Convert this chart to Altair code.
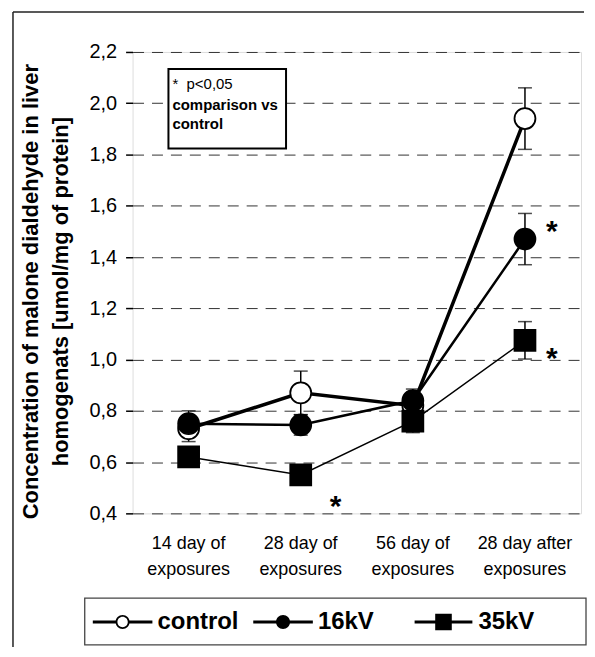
import altair as alt
import pandas as pd

# ---------------- data ----------------
categories = ["14 day of exposures", "28 day of exposures",
              "56 day of exposures", "28 day after exposures"]
series_names = ["control", "16kV", "35kV"]

control = [0.73, 0.87, 0.82, 1.94]
control_err = [0.05, 0.085, 0.04, 0.12]
kv16 = [0.75, 0.745, 0.84, 1.47]
kv16_err = [0.05, 0.04, 0.045, 0.10]
kv35 = [0.62, 0.55, 0.76, 1.075]
kv35_err = [0.035, 0.02, 0.045, 0.073]

y_ticks = [0.4, 0.6, 0.8, 1.0, 1.2, 1.4, 1.6, 1.8, 2.0, 2.2]

# significance stars (category, value)
star_low_cats = ["28 day of exposures"]
star_low_vals = [0.455]
star_high_cats = ["28 day after exposures", "28 day after exposures"]
star_high_vals = [1.527, 1.033]

note_line1 = "*\u00a0\u00a0p<0,05"
note_lines_bold = ["comparison vs", "control"]

y_title = ["Concentration of malone dialdehyde in liver",
           "homogenats [umol/mg of protein]"]

# ---------------- table ----------------
rows = []
for name, vals, errs in [("control", control, control_err),
                         ("16kV", kv16, kv16_err),
                         ("35kV", kv35, kv35_err)]:
    for c, v, e in zip(categories, vals, errs):
        rows.append({"series": name, "day": c, "value": v,
                     "lo": v - e, "hi": v + e})
df = pd.DataFrame(rows)

stars_low = pd.DataFrame({"day": star_low_cats, "value": star_low_vals})
stars_high = pd.DataFrame({"day": star_high_cats, "value": star_high_vals})

FONT = "Liberation Sans"

x_enc = alt.X("day:N", sort=categories, title=None,
              axis=alt.Axis(labelExpr="[slice(datum.label, 0, lastindexof(datum.label, ' ')), "
                                      "slice(datum.label, lastindexof(datum.label, ' ') + 1)]",
                            labelAngle=0, labelFontSize=18, labelFont=FONT,
                            labelColor="black", labelLineHeight=26,
                            labelPadding=21, labelBaseline="top",
                            ticks=False, domain=False, grid=False))
y_scale = alt.Scale(domain=[0.4, 2.2], nice=False, zero=False)
y_enc = alt.Y("value:Q", scale=y_scale,
              axis=alt.Axis(values=y_ticks,
                            labelExpr="replace(format(datum.value, '.1f'), '.', ',')",
                            labelFontSize=20, labelFont=FONT, labelColor="black",
                            labelPadding=9, tickSize=7, tickColor="black",
                            tickWidth=1.5, domain=False,
                            grid=True, gridDash=[11, 8], gridColor="#333333",
                            gridWidth=1,
                            title=y_title, titleFontSize=22, titleFont=FONT,
                            titleFontWeight="bold", titleColor="black",
                            titleLineHeight=30, titleAngle=270,
                            titleX=-95, titleY=240, titleBaseline="alphabetic",
                            titleAlign="center"))

base = alt.Chart(df)

err_rule = base.mark_rule(color="black", strokeWidth=1.5).encode(
    x=x_enc, y=alt.Y("lo:Q", scale=y_scale), y2="hi:Q")
err_lo = base.mark_tick(color="black", thickness=1.5, size=14, orient="horizontal").encode(
    x=x_enc, y=alt.Y("lo:Q", scale=y_scale))
err_hi = base.mark_tick(color="black", thickness=1.5, size=14, orient="horizontal").encode(
    x=x_enc, y=alt.Y("hi:Q", scale=y_scale))

lines = base.mark_line(color="black").encode(
    x=x_enc, y=y_enc, detail="series:N",
    strokeWidth=alt.StrokeWidth("series:N",
                                scale=alt.Scale(domain=series_names, range=[3.5, 1.5, 1.5]),
                                legend=None))

points = base.mark_point(filled=True, stroke="black", strokeWidth=1.8, opacity=1).encode(
    x=x_enc, y=y_enc,
    shape=alt.Shape("series:N", scale=alt.Scale(domain=series_names,
                                                 range=["circle", "circle", "square"]),
                    legend=None),
    fill=alt.Fill("series:N", scale=alt.Scale(domain=series_names,
                                               range=["white", "black", "black"]),
                  legend=None),
    size=alt.Size("series:N", scale=alt.Scale(domain=series_names, range=[441, 441, 324]),
                  legend=None))

# legend-only layer: filled symbol paths = line + marker (ring for control)
bars = ("M-4.6,-0.23L-1.0,-0.23L-1.0,0.23L-4.6,0.23Z"
        "M1.0,-0.23L4.6,-0.23L4.6,0.23L1.0,0.23Z")
outer = "M1.08,0A1.08,1.08,0,1,1,-1.08,0A1.08,1.08,0,1,1,1.08,0Z"
inner = "M0.8,0A0.8,0.8,0,1,0,-0.8,0A0.8,0.8,0,1,0,0.8,0Z"
p_ring = bars + outer + inner
p_disc = bars + outer
p_square = ("M-4.46,-0.23L-1.2,-0.23L-1.2,0.23L-4.46,0.23Z"
            "M1.2,-0.23L4.46,-0.23L4.46,0.23L1.2,0.23Z"
            "M-1.28,-1.28L1.28,-1.28L1.28,1.28L-1.28,1.28Z")
leg = alt.Legend(title=None, orient="none", legendX=-50, legendY=550,
                 direction="horizontal", symbolSize=169, symbolStrokeWidth=0,
                 symbolFillColor="black", symbolOpacity=1, symbolOffset=18,
                 labelOffset=23, labelFontSize=24, labelFont=FONT,
                 labelFontWeight="bold", labelColor="black",
                 padding=10, columnPadding=14, gridAlign="all")
legend_layer = base.mark_point(filled=True, opacity=0, color="black").encode(
    x=x_enc, y=y_enc,
    shape=alt.Shape("series:N", scale=alt.Scale(domain=series_names,
                                                 range=[p_ring, p_disc, p_square]),
                    legend=leg))

star1 = alt.Chart(stars_low).mark_text(text="*", fontSize=30, fontWeight="bold",
                                        font=FONT, color="black", dx=35, dy=17,
                                        baseline="alphabetic").encode(
    x=alt.X("day:N", sort=categories), y=alt.Y("value:Q", scale=y_scale))
star2 = alt.Chart(stars_high).mark_text(text="*", fontSize=30, fontWeight="bold",
                                         font=FONT, color="black", dx=27, dy=17,
                                         baseline="alphabetic").encode(
    x=alt.X("day:N", sort=categories), y=alt.Y("value:Q", scale=y_scale))

one = alt.Data(values=[{}])
note_box = alt.Chart(one).mark_rect(fill="white", stroke="black", strokeWidth=2).encode(
    x=alt.value(36), x2=alt.value(154), y=alt.value(17), y2=alt.value(97))
note1 = alt.Chart(one).mark_text(text=note_line1, fontSize=15, font=FONT, color="black",
                                 align="left", baseline="alphabetic").encode(
    x=alt.value(40), y=alt.value(37))
note2 = alt.Chart(one).mark_text(text=note_lines_bold, fontSize=15, font=FONT,
                                 fontWeight="bold", color="black", lineHeight=19,
                                 align="left", baseline="alphabetic").encode(
    x=alt.value(40), y=alt.value(58))

legend_box = alt.Chart(one).mark_rect(fill="white", stroke="#444444", strokeWidth=1.3).encode(
    x=alt.value(-48), x2=alt.value(455), y=alt.value(548), y2=alt.value(595))

frame_left = alt.Chart(one).mark_rule(color="#222222", strokeWidth=1.5).encode(
    x=alt.value(-120), y=alt.value(-40), y2=alt.value(597))
frame_top = alt.Chart(one).mark_rule(color="#222222", strokeWidth=1.5).encode(
    x=alt.value(-120), x2=alt.value(453), y=alt.value(-40))

chart = alt.layer(
    frame_left, frame_top, legend_box,
    err_rule, err_lo, err_hi, lines, points, legend_layer,
    star1, star2, note_box, note1, note2
).resolve_scale(
    shape="independent", fill="independent", size="independent"
).properties(
    width=450, height=463,
    padding={"left": 4, "top": 2, "right": 0, "bottom": 0}
).configure_view(
    stroke="black", strokeWidth=2
).configure(font=FONT)

chart.save("out.html", embed_options={"renderer": "svg", "actions": False})
